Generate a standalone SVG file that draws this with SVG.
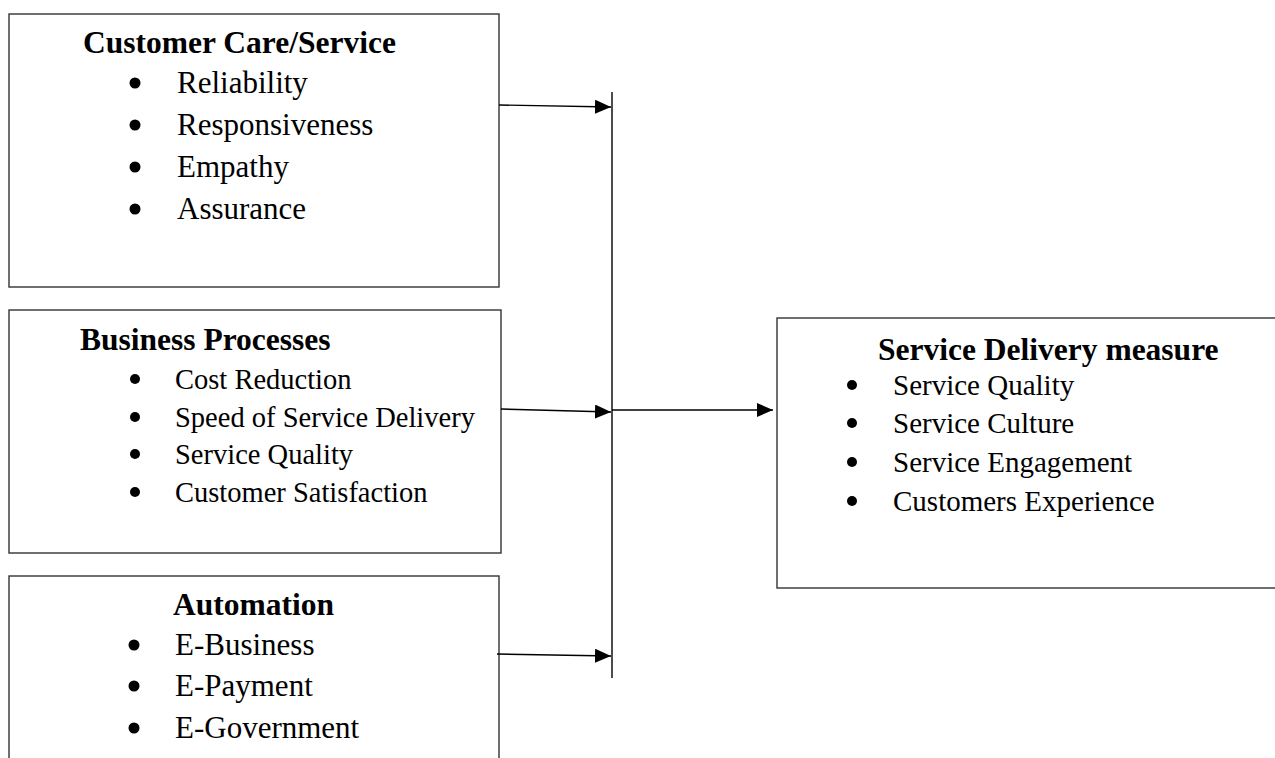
<svg xmlns="http://www.w3.org/2000/svg" width="1275" height="758" viewBox="0 0 1275 758">
  <defs>
    <marker id="arrow" viewBox="0 0 16 14" refX="16" refY="7" markerWidth="16" markerHeight="14" markerUnits="userSpaceOnUse" orient="auto">
      <path d="M0,0 L16,7 L0,14 Z" fill="#000"/>
    </marker>
    <style>
      .box { fill: #fff; stroke: #333; stroke-width: 1.4; }
      .title { font-family: "Liberation Serif", "Times New Roman", serif; font-weight: bold; font-size: 31.5px; fill: #000; }
      .item { font-family: "Liberation Serif", "Times New Roman", serif; font-size: 31px; fill: #000; }
      .item-sm { font-family: "Liberation Serif", "Times New Roman", serif; font-size: 28.5px; fill: #000; }
      .item-md { font-family: "Liberation Serif", "Times New Roman", serif; font-size: 29px; fill: #000; }
      .dot { fill: #000; }
      .link { fill: none; stroke: #000; stroke-width: 1.4; }
    </style>
  </defs>

  <rect width="1275" height="758" fill="#fff"/>

  <!-- Customer care / service -->
  <g id="customer-care">
    <rect class="box" x="9" y="14" width="490" height="273"/>
    <text class="title" x="83" y="53">Customer Care/Service</text>
    <circle class="dot" cx="135" cy="83" r="5.5"/>
    <text class="item" x="177" y="93">Reliability</text>
    <circle class="dot" cx="135" cy="125" r="5.5"/>
    <text class="item" x="177" y="135">Responsiveness</text>
    <circle class="dot" cx="135" cy="167" r="5.5"/>
    <text class="item" x="177" y="177">Empathy</text>
    <circle class="dot" cx="135" cy="209" r="5.5"/>
    <text class="item" x="177" y="219">Assurance</text>
  </g>

  <!-- Business processes -->
  <g id="business-processes">
    <rect class="box" x="9" y="310" width="492" height="243"/>
    <text class="title" x="80" y="350">Business Processes</text>
    <circle class="dot" cx="135" cy="379" r="5"/>
    <text class="item-sm" x="175" y="389">Cost Reduction</text>
    <circle class="dot" cx="135" cy="417" r="5"/>
    <text class="item-sm" x="175" y="427">Speed of Service Delivery</text>
    <circle class="dot" cx="135" cy="454" r="5"/>
    <text class="item-sm" x="175" y="464">Service Quality</text>
    <circle class="dot" cx="135" cy="492" r="5"/>
    <text class="item-sm" x="175" y="502">Customer Satisfaction</text>
  </g>

  <!-- Automation -->
  <g id="automation">
    <rect class="box" x="9" y="576" width="490" height="200"/>
    <text class="title" x="173" y="615">Automation</text>
    <circle class="dot" cx="134" cy="645" r="5.5"/>
    <text class="item" x="175" y="655">E-Business</text>
    <circle class="dot" cx="134" cy="686" r="5.5"/>
    <text class="item" x="175" y="696">E-Payment</text>
    <circle class="dot" cx="134" cy="728" r="5.5"/>
    <text class="item" x="175" y="738">E-Government</text>
  </g>

  <!-- Service delivery measure (box runs past the right edge) -->
  <g id="service-delivery">
    <rect class="box" x="777" y="318" width="520" height="270"/>
    <text class="title" x="878" y="360">Service Delivery measure</text>
    <circle class="dot" cx="852" cy="385" r="5"/>
    <text class="item-md" x="893" y="395">Service Quality</text>
    <circle class="dot" cx="852" cy="423" r="5"/>
    <text class="item-md" x="893" y="433">Service Culture</text>
    <circle class="dot" cx="852" cy="462" r="5"/>
    <text class="item-md" x="893" y="472">Service Engagement</text>
    <circle class="dot" cx="852" cy="501" r="5"/>
    <text class="item-md" x="893" y="511">Customers Experience</text>
  </g>

  <!-- Connectors -->
  <g id="connectors">
    <line class="link" x1="612" y1="92" x2="612" y2="678"/>
    <line class="link" x1="499" y1="105" x2="611" y2="107" marker-end="url(#arrow)"/>
    <line class="link" x1="501" y1="409" x2="611" y2="412" marker-end="url(#arrow)"/>
    <line class="link" x1="497" y1="654" x2="611" y2="656" marker-end="url(#arrow)"/>
    <line class="link" x1="612" y1="410" x2="773" y2="410" marker-end="url(#arrow)"/>
  </g>
</svg>
